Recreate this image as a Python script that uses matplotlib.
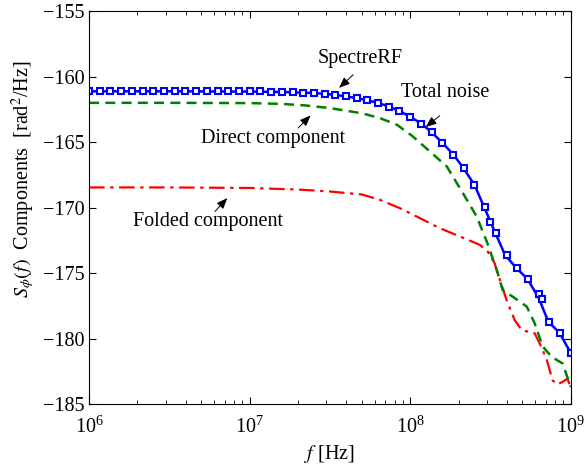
import numpy as np
import matplotlib
matplotlib.use("Agg")
import matplotlib.pyplot as plt

plt.rcParams['font.family'] = ['Liberation Serif', 'DejaVu Serif']
plt.rcParams['mathtext.fontset'] = 'stix'
plt.rcParams['font.size'] = 14.5

# total noise (solid line), exponent of f and dB
tot_exp = [6.0, 6.5, 7.0, 7.2, 7.4, 7.5, 7.6, 7.7, 7.8, 7.87, 7.93, 8.0, 8.07,
           8.13, 8.2, 8.27, 8.33, 8.4, 8.46, 8.5, 8.53, 8.59, 8.66, 8.73, 8.8,
           8.86, 8.93, 9.0]
tot_db = [-161.12, -161.12, -161.14, -161.17, -161.25, -161.35, -161.5, -161.72,
          -162.0, -162.3, -162.6, -163.06, -163.6, -164.2, -165.05, -165.96,
          -166.96, -168.26, -169.94, -171.09, -171.93, -173.6, -174.6, -175.44,
          -176.9, -178.7, -179.57, -181.1]

# SpectreRF points
rf_exp = [6.0, 6.067, 6.133, 6.2, 6.267, 6.333, 6.4, 6.467, 6.533, 6.6, 6.667,
          6.733, 6.8, 6.867, 6.933, 7.0, 7.067, 7.133, 7.2, 7.267, 7.333, 7.4,
          7.467, 7.533, 7.6, 7.667, 7.733, 7.8, 7.867, 7.933, 8.0, 8.067, 8.133,
          8.2, 8.267, 8.333, 8.4, 8.467, 8.5, 8.533, 8.6, 8.667, 8.733, 8.8,
          8.82, 8.867, 8.933, 9.0]
rf_db = [-161.12, -161.12, -161.12, -161.12, -161.12, -161.12, -161.12, -161.12,
         -161.12, -161.12, -161.12, -161.12, -161.12, -161.12, -161.12, -161.12,
         -161.13, -161.15, -161.17, -161.2, -161.23, -161.27, -161.32, -161.38,
         -161.5, -161.65, -161.8, -162.0, -162.3, -162.6, -163.06, -163.6,
         -164.2, -165.05, -165.96, -166.96, -168.26, -169.94, -171.09, -171.93,
         -173.6, -174.6, -175.44, -176.6, -177.0, -178.7, -179.57, -181.1]

# direct component
dir_exp = [6.0, 6.5, 7.0, 7.2, 7.35, 7.5, 7.7, 7.81, 7.917, 8.016, 8.122, 8.228,
           8.327, 8.414, 8.477, 8.539, 8.576, 8.638, 8.726, 8.775, 8.825, 8.881,
           8.949, 9.0]
dir_db = [-162.0, -162.0, -162.02, -162.08, -162.2, -162.4, -162.8, -163.16,
          -163.67, -164.56, -165.71, -166.86, -168.87, -170.68, -172.6, -174.76,
          -176.3, -176.8, -177.56, -178.83, -180.6, -181.4, -181.9, -183.7]

# folded component
fold_exp = [6.0, 6.5, 7.0, 7.3, 7.5, 7.7, 7.81, 7.935, 8.06, 8.184, 8.309, 8.433,
            8.483, 8.526, 8.558, 8.6, 8.651, 8.694, 8.732, 8.775, 8.806, 8.85,
            8.887, 8.918, 8.95, 8.98, 9.0]
fold_db = [-168.46, -168.46, -168.5, -168.62, -168.77, -169.0, -169.4, -170.04,
           -170.8, -171.57, -172.2, -172.84, -173.36, -174.25, -175.5, -177.05,
           -178.6, -179.34, -179.47, -179.6, -180.36, -181.6, -183.2, -183.5,
           -183.3, -183.06, -183.8]

fig = plt.figure(figsize=(5.86, 4.66), dpi=100)
ax = fig.add_axes([0.152, 0.133, 0.822, 0.843])

ax.plot(10.0 ** np.array(fold_exp), fold_db, color='red', lw=1.6,
        dashes=(7, 2.5, 1.5, 2.5))
ax.plot(10.0 ** np.array(dir_exp), dir_db, color='green', lw=1.8, dashes=(4, 2.5))
ax.plot(10.0 ** np.array(tot_exp), tot_db, color='blue', lw=1.8)
ax.plot(10.0 ** np.array(rf_exp), rf_db, ls='none', marker='s', ms=5,
        mfc='white', mec='blue', mew=1.5)

ax.set_xscale('log')
ax.set_xlim(1e6, 1e9)
ax.set_ylim(-185, -155)
ax.set_yticks([-185, -180, -175, -170, -165, -160, -155])
ax.tick_params(which='both', direction='in', top=True, right=True)
ax.tick_params(which='major', length=5)
ax.tick_params(which='minor', length=3)
ax.tick_params(axis='x', which='major', pad=9)
ax.set_xlabel('$f$ [Hz]')
ax.set_ylabel('$S_{\\phi}(f)$\u2002Components\u2002[rad$^2$/Hz]')
ax.yaxis.set_label_coords(-0.108, 0.572)

arr = dict(arrowstyle='-|>,head_length=0.45,head_width=0.18', color='black',
           lw=0.7, shrinkA=0, shrinkB=0)
ax.annotate('', xy=(10 ** 7.557, -160.86), xytext=(10 ** 7.645, -159.85), arrowprops=arr)
ax.text(10 ** 7.686, -158.65, 'SpectreRF', ha='center', va='center')
ax.annotate('', xy=(10 ** 8.097, -163.85), xytext=(10 ** 8.184, -162.98), arrowprops=arr)
ax.text(10 ** 8.215, -161.2, 'Total noise', ha='center', va='center')
ax.annotate('', xy=(10 ** 7.38, -162.96), xytext=(10 ** 7.302, -163.92), arrowprops=arr)
ax.text(10 ** 7.147, -164.74, 'Direct component', ha='center', va='center')
ax.annotate('', xy=(10 ** 6.861, -169.27), xytext=(10 ** 6.784, -170.3), arrowprops=arr)
ax.text(10 ** 6.742, -171.06, 'Folded component', ha='center', va='center')

fig.savefig('out.png', dpi=100)
